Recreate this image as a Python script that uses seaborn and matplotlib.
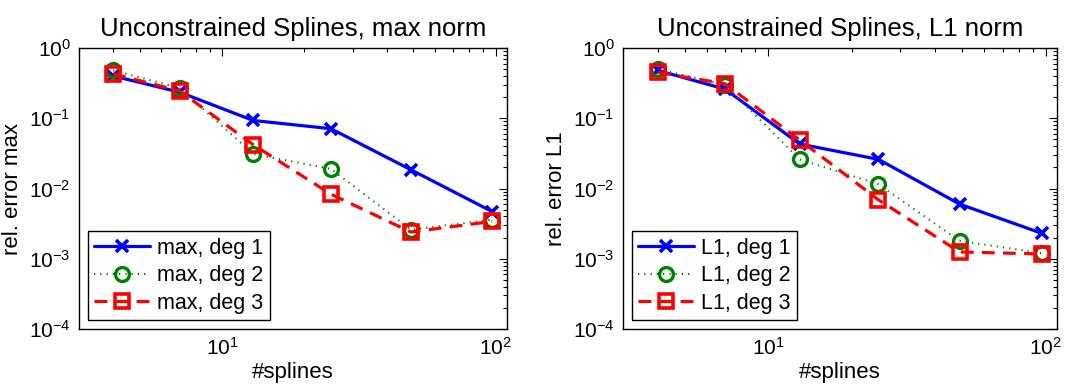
import numpy as np
import pandas as pd
import matplotlib
matplotlib.use("Agg")
import matplotlib.pyplot as plt
from matplotlib.ticker import LogLocator, NullFormatter
import seaborn as sns

# number of splines used for each fit
n_splines = [4, 7, 13, 25, 49, 97]

# relative errors, max norm
max_deg1 = [0.40, 0.235, 0.093, 0.071, 0.0185, 0.0047]
max_deg2 = [0.48, 0.27, 0.031, 0.019, 0.0026, 0.0036]
max_deg3 = [0.43, 0.245, 0.042, 0.0083, 0.0024, 0.0034]

# relative errors, L1 norm
l1_deg1 = [0.48, 0.26, 0.043, 0.026, 0.006, 0.0023]
l1_deg2 = [0.50, 0.30, 0.026, 0.0115, 0.0018, 0.0012]
l1_deg3 = [0.45, 0.31, 0.049, 0.0069, 0.00125, 0.00117]

titles = ["Unconstrained Splines, max norm", "Unconstrained Splines, L1 norm"]
ylabels = ["rel. error max", "rel. error L1"]
norm_names = ["max", "L1"]
x_label = "#splines"

sns.set_style("white")
plt.rcParams["font.family"] = ["Liberation Sans", "DejaVu Sans"]
plt.rcParams["mathtext.fontset"] = "custom"
plt.rcParams["mathtext.rm"] = "Liberation Sans"
plt.rcParams["mathtext.it"] = "Liberation Sans:italic"
plt.rcParams["mathtext.bf"] = "Liberation Sans:bold"
for key in ["text.color", "axes.labelcolor", "xtick.color", "ytick.color",
            "axes.edgecolor"]:
    plt.rcParams[key] = "black"

styles = [
    dict(color="#0000ff", linestyle="-", lw=2.3, marker="x", ms=8, mew=2.6,
         mfc="none"),
    dict(color="#008000", linestyle=(0, (0.6, 2.4)), lw=1.5, marker="o", ms=10,
         mew=2.4, mfc="none"),
    dict(color="#ff0000", linestyle=(0, (4.0, 2.6)), lw=2.3, marker="s", ms=9.5,
         mew=2.6, mfc="none"),
]

fig = plt.figure(figsize=(10.73, 3.92), dpi=100)
positions = [[0.0736, 0.1607, 0.3989, 0.7168], [0.5806, 0.1607, 0.4045, 0.7168]]

panel_data = [[max_deg1, max_deg2, max_deg3], [l1_deg1, l1_deg2, l1_deg3]]

for p in range(2):
    ax = fig.add_axes(positions[p])
    for k, vals in enumerate(panel_data[p]):
        df = pd.DataFrame({"n": n_splines, "err": vals})
        st = styles[k]
        sns.lineplot(data=df, x="n", y="err", ax=ax, color=st["color"],
                     linestyle=st["linestyle"], linewidth=st["lw"],
                     marker=st["marker"], markersize=st["ms"],
                     markeredgewidth=st["mew"], markerfacecolor=st["mfc"],
                     markeredgecolor=st["color"],
                     label=f"{norm_names[p]}, deg {k + 1}")
    ax.set_xscale("log")
    ax.set_yscale("log")
    ax.set_xlim(3, 110)
    ax.set_ylim(1e-4, 1)
    ax.yaxis.set_major_locator(LogLocator(base=10, numticks=10))
    ax.yaxis.set_minor_locator(LogLocator(base=10, subs=np.arange(2, 10), numticks=10))
    ax.yaxis.set_minor_formatter(NullFormatter())
    ax.xaxis.set_minor_formatter(NullFormatter())
    ax.tick_params(which="both", direction="in", top=True, right=True,
                   color="black", labelcolor="black", width=0.8)
    ax.tick_params(which="major", length=6, labelsize=15, pad=6)
    ax.tick_params(which="minor", length=3)
    for sp in ax.spines.values():
        sp.set_color("black")
        sp.set_linewidth(1.0)
    ax.set_title(titles[p], fontsize=18.5, pad=9, color="black")
    ax.set_xlabel(x_label, fontsize=16, labelpad=2, color="black")
    ax.set_ylabel(ylabels[p], fontsize=16, labelpad=4, color="black")
    leg = ax.legend(loc="lower left", fontsize=15.5, frameon=True, fancybox=False,
                    edgecolor="black", framealpha=1, handlelength=2.6,
                    labelspacing=0.3, borderpad=0.3, borderaxespad=0.42,
                    handletextpad=0.3)
    leg.get_frame().set_linewidth(1.0)
    for t in leg.get_texts():
        t.set_color("black")

fig.savefig("out.png", dpi=100)
